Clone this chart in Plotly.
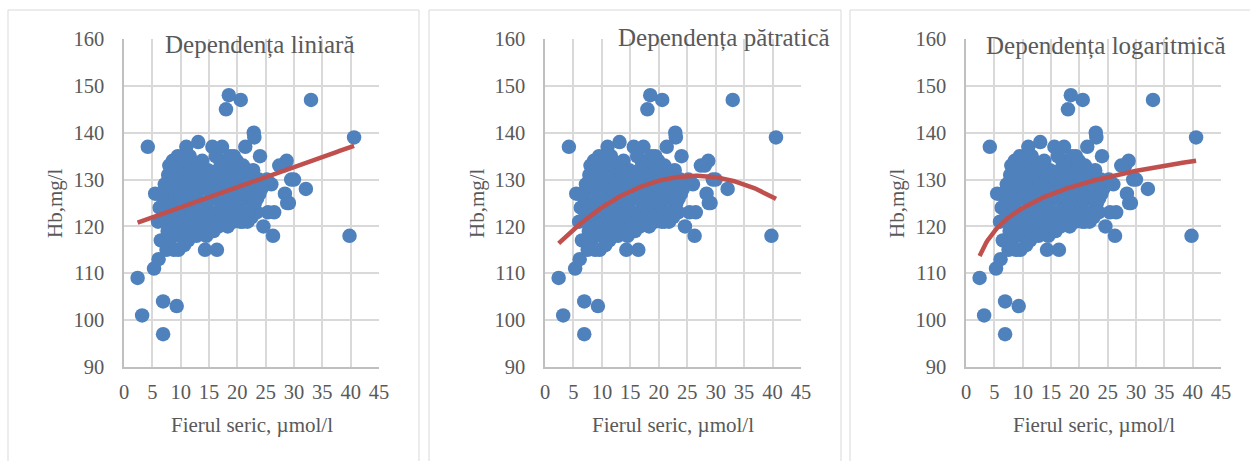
import numpy as np
import plotly.graph_objects as go

# ---- data (serum iron, umol/l ; Hb, mg/l) ----
iron = [
    2.4, 3.2, 6.9, 6.9, 9.3, 4.2, 5.3, 6.1,
    18.5, 20.6, 18.0, 33.0, 40.6, 39.8,
    32.1, 30.0, 28.7, 28.1, 29.1, 28.4, 28.8, 27.4, 29.5,
    26.3, 26.5, 25.4, 24.6, 26.0, 25.2, 24.0, 22.9, 23.0, 21.4, 21.8,
    14.3, 16.4, 13.1, 11.0, 15.6, 17.3, 12.6, 19.4, 8.0, 8.6,
    5.5, 6.3, 6.0, 6.5, 7.5, 9.6, 12.4, 17.0, 18.7, 23.4, 23.1, 22.8, 19.3, 20.5, 22.5, 23.5, 24.2,
    9.5, 10.2, 11.6, 13.8, 14.8, 16.2, 18.0, 19.9, 21.0,
    7.8, 9.1, 10.7, 12.2, 13.5, 15.1, 16.6, 18.3, 19.7, 21.3, 22.6, 23.8,
    7.2, 8.7, 10.1, 11.4, 12.9, 14.2, 15.8, 17.1, 18.9, 20.3, 21.7, 23.2,
    6.6, 7.9, 9.4, 10.9, 12.3, 13.7, 15.3, 16.8, 18.2, 19.6, 21.1, 22.4, 23.9,
    6.9, 8.3, 9.8, 11.2, 12.7, 14.1, 15.6, 17.2, 18.6, 20.0, 21.5, 22.9,
    7.1, 8.6, 10.3, 11.7, 13.2, 14.6, 16.1, 17.6, 19.0, 20.4, 21.9,
    7.4, 8.9, 10.5, 11.9, 13.4, 14.9, 16.4, 17.8, 19.2, 20.8,
    7.7, 9.2, 10.8, 12.1, 13.6, 15.1, 16.7, 18.3, 21.0,
    8.1, 9.9, 11.3, 12.8, 14.5, 15.8,
    7.9, 8.8, 10.6,
]
hb = [
    109, 101, 97, 104, 103, 137, 111, 113,
    148, 147, 145, 147, 139, 118,
    128, 130, 134, 133, 125, 127, 125, 133, 130,
    118, 123, 123, 120, 129, 130, 135, 140, 139, 137, 121,
    115, 115, 138, 137, 137, 137, 133, 135, 133, 134,
    127, 124, 121, 117, 115, 115, 133, 134, 135, 123, 125, 132, 121, 121, 122, 126, 128,
    135, 133, 135, 134, 132, 135, 133, 134, 133,
    131, 132, 131, 131, 132, 131, 132, 131, 132, 131, 130, 130,
    129, 130, 129, 130, 129, 130, 129, 130, 129, 130, 129, 129,
    127, 128, 127, 128, 127, 128, 127, 128, 127, 128, 127, 128, 127,
    126, 125, 126, 125, 126, 125, 126, 125, 126, 125, 126, 125,
    123, 124, 123, 124, 123, 124, 123, 124, 123, 124, 123,
    121, 122, 121, 122, 121, 122, 121, 122, 122, 122,
    119, 120, 119, 120, 119, 120, 120, 120, 121,
    117, 118, 117, 118, 118, 119,
    116, 115, 116,
]

titles = ["Dependența liniară", "Dependența pătratică", "Dependența logaritmică"]
x_title = "Fierul seric, µmol/l"
y_title = "Hb,mg/l"
x_ticks = [0, 5, 10, 15, 20, 25, 30, 35, 40, 45]
y_ticks = [90, 100, 110, 120, 130, 140, 150, 160]

# trendline coefficients
lin_coef = [119.8, 0.4288]            # a + b x
quad_coef = [113.38, 1.3144, -0.0248]  # a + b x + c x^2
log_coef = [107.4, 7.19]               # a + b ln x

# ---- styling / layout ----
W, H = 1250, 461
BLUE = "#4F81BD"
RED = "#C0504D"
GRID = "#D9D9D9"
TXT = "#595959"
FONT = "Liberation Serif, Times New Roman, serif"

plot_px = [(124, 379), (545, 801), (966, 1221)]
y_px = (39, 367)
border_px = [(8, 419), (429, 841), (850, 1262)]
title_pos = [(259.5, 45), (723.5, 38), (1105.5, 46)]
ytitle_x = [55, 477, 897]

xs = np.array(iron)
xmin, xmax = xs.min(), xs.max()
xf = np.linspace(xmin, xmax, 200)
fits = [
    lin_coef[0] + lin_coef[1] * xf,
    quad_coef[0] + quad_coef[1] * xf + quad_coef[2] * xf ** 2,
    log_coef[0] + log_coef[1] * np.log(xf),
]

fig = go.Figure()
ydom = [1 - y_px[1] / H, 1 - y_px[0] / H]

for i in range(3):
    sfx = "" if i == 0 else str(i + 1)
    fig.add_trace(go.Scatter(
        x=iron, y=hb, mode="markers",
        marker=dict(color=BLUE, size=14.5, line=dict(width=0)),
        xaxis="x" + sfx, yaxis="y" + sfx, showlegend=False, cliponaxis=False,
    ))
    fig.add_trace(go.Scatter(
        x=xf, y=fits[i], mode="lines",
        line=dict(color=RED, width=4.5),
        xaxis="x" + sfx, yaxis="y" + sfx, showlegend=False,
    ))
    x0, x1 = plot_px[i]
    fig.layout["xaxis" + sfx] = dict(
        domain=[x0 / W, x1 / W], anchor="y" + sfx, range=[0, 45],
        tickvals=x_ticks, ticktext=[str(v) for v in x_ticks],
        showgrid=True, gridcolor=GRID, gridwidth=1.5,
        showline=True, linecolor="#BFBFBF", linewidth=1.5,
        zeroline=False, ticks="", ticklabelstandoff=6, automargin=False,
        tickfont=dict(family=FONT, size=20.5, color=TXT),
        fixedrange=True,
    )
    fig.layout["yaxis" + sfx] = dict(
        domain=ydom, anchor="x" + sfx, range=[90, 160],
        tickvals=y_ticks, ticktext=[str(v) for v in y_ticks],
        showgrid=True, gridcolor=GRID, gridwidth=1.5,
        showline=True, linecolor="#BFBFBF", linewidth=1.5,
        zeroline=False, ticks="", ticklabelstandoff=14, automargin=False,
        tickfont=dict(family=FONT, size=20.5, color=TXT),
        fixedrange=True,
    )
    # panel border
    bx0, bx1 = border_px[i]
    fig.add_shape(type="rect", xref="paper", yref="paper",
                  x0=bx0 / W, x1=bx1 / W, y0=-0.05, y1=1 - 10 / H,
                  line=dict(color=GRID, width=1), layer="below")
    # chart title
    tx, ty = title_pos[i]
    fig.add_annotation(text=titles[i], xref="paper", yref="paper",
                       x=tx / W, y=1 - ty / H, xanchor="center", yanchor="middle",
                       showarrow=False, font=dict(family=FONT, size=25, color=TXT))
    # axis titles
    fig.add_annotation(text=x_title, xref="paper", yref="paper",
                       x=(x0 + x1) / 2 / W, y=1 - 425 / H, xanchor="center", yanchor="middle",
                       showarrow=False, font=dict(family=FONT, size=21, color=TXT))
    fig.add_annotation(text=y_title, xref="paper", yref="paper",
                       x=ytitle_x[i] / W, y=1 - 203 / H, xanchor="center", yanchor="middle",
                       textangle=-90, showarrow=False,
                       font=dict(family=FONT, size=21, color=TXT))

fig.update_layout(
    template="none",
    width=W, height=H, margin=dict(l=0, r=0, t=0, b=0, pad=0),
    paper_bgcolor="white", plot_bgcolor="white",
)

fig.write_html("out.html", config={"displayModeBar": False})
